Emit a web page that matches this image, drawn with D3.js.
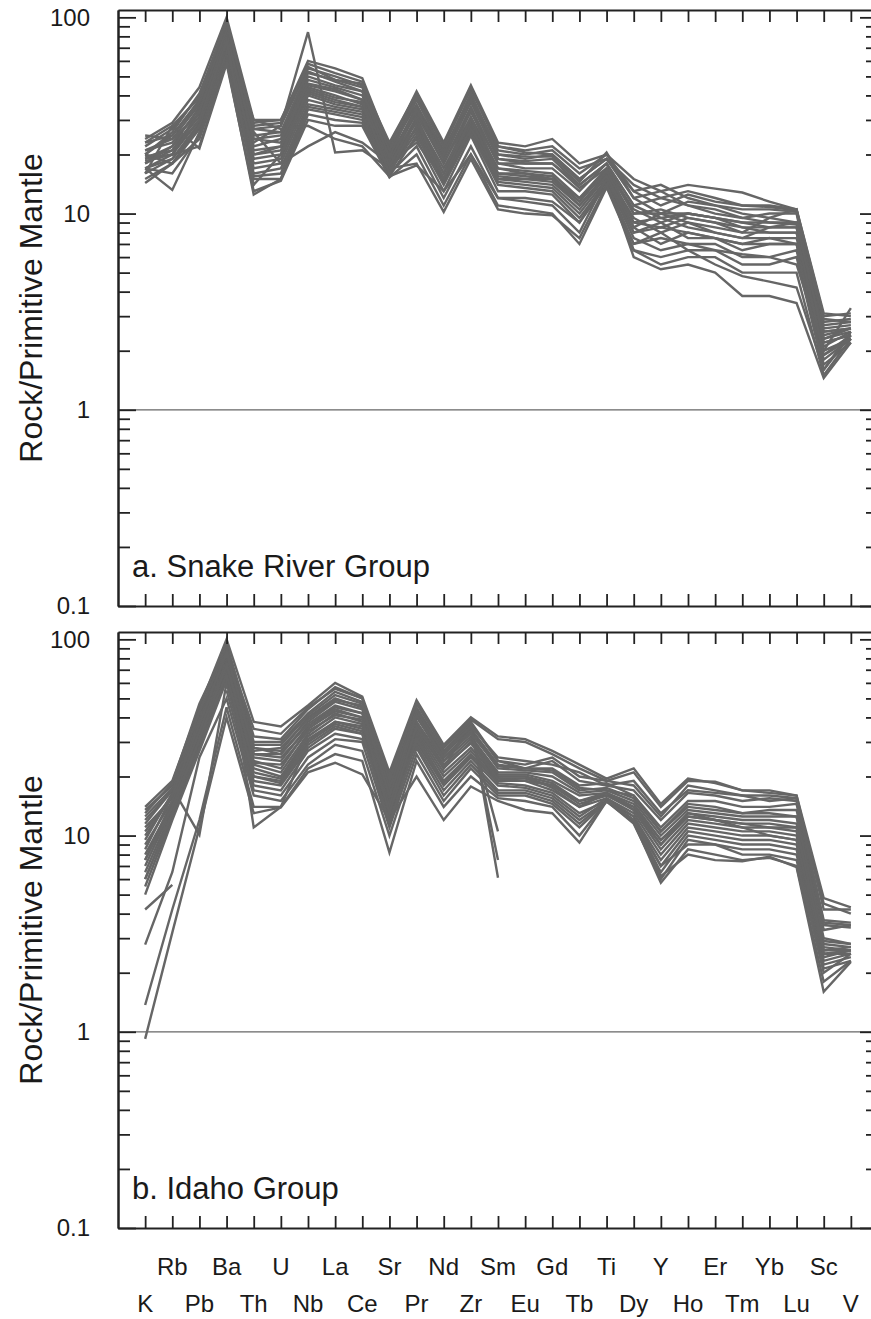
<!DOCTYPE html>
<html>
<head>
<meta charset="utf-8">
<script src="https://cdn.jsdelivr.net/npm/d3@7"></script>
<style>
  html, body { margin: 0; padding: 0; background: #fff; }
  svg { display: block; }
  text { font-family: "Liberation Sans", Arial, Helvetica, sans-serif; fill: #1a1a1a; }
</style>
</head>
<body>
<svg id="chart" width="871" height="1319"></svg>
<script>
// ---------------- data ----------------
const elements = ["K","Rb","Pb","Ba","Th","U","Nb","La","Ce","Sr","Pr","Nd","Zr","Sm","Eu","Gd","Tb","Ti","Dy","Y","Ho","Er","Tm","Yb","Lu","Sc","V"];
const majorTicks = [0.1, 1, 10, 100];
const majorTickLabels = ["0.1", "1", "10", "100"];
const panelTitles = ["a. Snake River Group", "b. Idaho Group"];
const yAxisTitle = "Rock/Primitive Mantle";

// Snake River Group samples (rock / primitive mantle)
const snakeRiver = [
  [24, 29, 44, 100, 30, 30, 60, 55, 49, 22, 42, 23, 45, 23, 22, 24, 18, 20, 15, 13, 14, 13.4, 12.8, 11.5, 10.5, 3.0, 3.1],
  [22, 27, 40, 95, 28, 29, 58, 52, 47, 21, 40, 22, 43, 22, 21, 22, 17, 19, 14, 12, 13, 12, 11, 10.8, 10.4, 2.8, 2.9],
  [20, 25, 38, 90, 27, 28, 55, 50, 45, 20, 38, 21, 40, 21, 20, 21, 16, 20, 13, 14, 12, 11, 10.5, 10.5, 10.2, 2.6, 2.7],
  [25, 24, 36, 88, 25, 26, 52, 48, 44, 21, 36, 20, 38, 20, 19, 20, 15, 19, 12, 10, 11.5, 11, 10, 9.5, 9, 2.5, 2.6],
  [19, 22, 35, 85, 24, 25, 50, 45, 42, 19, 35, 19, 37, 19, 18.5, 19, 14, 18, 11, 12, 11, 10.5, 9.5, 9, 8.8, 2.3, 2.5],
  [18, 21, 33, 82, 22, 24, 48, 44, 40, 18, 33, 18, 35, 18, 18, 18, 13.5, 17, 10.5, 9, 10, 9.5, 9, 8.5, 8.5, 2.2, 2.4],
  [21, 23, 34, 80, 21, 22, 45, 42, 38, 20, 32, 18, 33, 18, 17, 17, 13, 18, 10, 10.5, 9.5, 9, 8, 8, 8, 2.4, 2.6],
  [17, 20, 30, 78, 20, 21, 44, 40, 36, 17, 30, 17, 31, 17, 16.5, 16, 12, 16, 9.5, 8, 9, 8.5, 8, 9.5, 10.5, 2.0, 2.3],
  [16, 19, 29, 75, 19, 20, 42, 38, 35, 19, 29, 16, 30, 16, 16, 15.5, 11.5, 17, 9, 9.5, 8.5, 8, 7.5, 7.5, 7.5, 2.1, 2.5],
  [20, 18, 28, 72, 18, 19, 40, 36, 34, 16, 28, 15, 29, 15.5, 15, 15, 11, 16, 8.5, 7, 8, 7.5, 7, 7.5, 7, 1.9, 2.4],
  [15, 18, 27, 70, 17, 18, 38, 35, 33, 18, 27, 15, 28, 15, 14.5, 14, 10.5, 15.5, 8, 9, 7.5, 7.5, 6.5, 7, 7, 1.8, 2.3],
  [17, 13.2, 26, 68, 16, 17, 36, 34, 32, 16.5, 26, 14.5, 27, 14.5, 14, 13.5, 10, 15, 7.5, 6.5, 7, 7, 6, 6, 6.5, 1.7, 2.2],
  [17, 16, 25, 65, 15.5, 16, 35, 33, 31, 15.5, 25, 14, 26, 14, 13.5, 13, 9.5, 14.5, 7, 8, 6.5, 6.5, 5.5, 5.5, 6, 1.6, 2.4],
  [14.3, 18, 24, 62, 15, 15, 34, 32, 30, 17, 24, 13, 25, 13, 13, 12.5, 9, 14, 6.5, 5.5, 6, 6, 5, 5, 5, 1.5, 2.3],
  [19, 20, 22, 60, 12.5, 15, 32, 30, 29, 16, 22, 12, 22, 12, 11.5, 11, 8, 15, 6, 5.2, 5.5, 5, 3.8, 3.8, 3.5, 1.45, 2.2],
  [16, 28, 21.5, 58, 13, 14.7, 30, 28, 28, 15.3, 20, 11, 20, 11, 10.5, 10, 7, 13.6, 6.5, 6, 6.5, 5.5, 4.8, 4.5, 4.2, 1.6, 2.5],
  [23, 25, 37, 86, 23, 28, 84, 20.5, 21, 17, 18, 10.2, 19, 10.5, 10, 9.8, 7.5, 14, 7, 7.5, 7, 6.5, 6.2, 6, 5.5, 2.0, 3.3],
  [18, 22, 31, 72, 30, 27, 28, 24, 22, 15.5, 17.6, 13, 20, 12, 12, 11.5, 9, 15, 8, 8.5, 8, 7.5, 7, 7, 7, 2.7, 2.8],
  [21, 24, 32, 78, 26, 18, 22, 26, 23, 18, 23, 15, 27, 17, 16, 15, 12, 17, 10, 10, 10, 9.5, 9, 9, 9, 2.9, 2.8],
  [20, 26, 41, 92, 29, 30, 56, 48, 46, 23, 41, 22, 44, 22, 20.5, 20, 15, 19, 13, 11, 12.5, 11.5, 11, 11, 10.5, 3.1, 3.0],
  [18.5, 20, 33, 80, 24, 23, 46, 43, 38, 18.5, 34, 19, 38, 19, 18, 18, 14, 18, 11, 9.5, 10, 9.5, 8.5, 8.5, 8.5, 2.5, 2.6],
  [23, 28, 39, 96, 27, 26, 53, 47, 42, 19.5, 39, 20, 41, 20, 19.5, 19.5, 14.5, 20.5, 12, 13, 11, 10, 9.5, 10, 10, 2.2, 2.4],
  [17, 19, 28, 74, 20, 22, 41, 37, 35, 17.5, 31, 16, 34, 16, 15.5, 15, 11.5, 16.5, 9, 8.5, 9.5, 9, 8.5, 8, 8, 1.9, 2.3],
  [19.5, 21, 30, 76, 14, 20, 43, 39, 37, 16, 30, 15, 31, 15, 15, 14.5, 11, 15.5, 8.5, 10, 9, 8, 7.5, 8.5, 9, 2.3, 2.6]
];

// Idaho Group samples (null = not analysed)
const idaho = [
  [14, 19, 45, 100, 38, 36, 46, 60, 51, 21, 49, 29, 40, 32, 31, 27, 23, 19.5, 22, 14.5, 19.5, 18.5, 17, 17, 16, 4.8, 4.3],
  [13.5, 18, 42, 95, 32, 31, 44, 57, 50, 20, 47, 28, 38, 24, 23, 25, 20, 19, 18, 12.5, 18, 17, 16, 15, 15.5, 4.5, 4.0],
  [12, 17, 40, 90, 30, 30, 42, 54, 48, 18, 45, 27, 37, 24, 22, 24, 19, 18, 17, 12, 16.5, 16, 15, 15.5, 15, 3.7, 3.6],
  [10, 16, 38, 85, 28, 27, 40, 50, 45, 16.5, 42, 26, 35, 23, 22, 22, 18, 18.5, 16, 11, 15, 15, 14, 14, 14.5, 3.5, 3.4],
  [11, 15.5, 36, 82, 26, 26, 38, 48, 44, 15, 40, 25, 34, 22, 21.5, 21, 17, 17.5, 15.5, 10.5, 14.5, 14, 13, 13.5, 13.5, 3.3, 3.5],
  [9, 15, 35, 80, 25, 24, 36, 45, 42, 14.5, 38, 24, 32, 21, 21, 20, 16.5, 17, 15, 10, 13.5, 13, 12.5, 12.5, 12.5, 3.0, 2.8],
  [8, 14.5, 33, 75, 24, 22, 35, 43, 40, 14, 37, 23, 31, 20.5, 20.5, 19, 16, 16.5, 14.5, 9.5, 13, 12.5, 12, 12, 11.5, 2.8, 2.7],
  [7, 14, 32, 72, 23, 21, 33, 42, 38, 13.5, 35, 22, 30, 20, 20, 18.5, 15, 16, 14, 9, 12.5, 12, 11.5, 11, 11, 2.7, 2.6],
  [6.5, 13.5, 30, 70, 22, 20, 32, 40, 37, 13, 34, 21, 28, 19.5, 19.5, 18, 14.5, 16, 13.5, 8.5, 12, 11.5, 11, 11, 10.5, 2.6, 2.7],
  [6, 13, 29, 68, 21, 19.5, 31, 38, 35, 12.5, 33, 20, 27, 19, 19, 17, 14, 15.5, 13, 8, 11.5, 11, 10.5, 10.5, 10, 2.5, 2.5],
  [5.5, 12.5, 28, 65, 20, 19, 30, 37, 34, 12, 32, 19, 26, 18.5, 18, 16.5, 13, 15, 12.5, 7.5, 11, 10.5, 10, 10, 9.5, 2.4, 2.6],
  [5, 12, 27, 62, 19, 18, 28, 35, 33, 12, 30, 18, 25, 18, 17.5, 16, 12.5, 15.5, 12.5, 7, 10.5, 10, 9.5, 9.5, 9, 2.3, 2.5],
  [12.5, 17.5, 10.1, 60, 18, 17, 27, 33, 31, 16, 29, 17, 24, 17, 17, 15.5, 12, 15, 12, 6.5, 10, 9.5, 9, 9, 8.5, 2.2, 2.4],
  [4.2, 5.6, null, 55, 17, 16, 25, 31, 30, 11, 28, 16, 23, 16.5, 16.5, 15, 11.5, 15, 11.5, 6, 9.5, 9, 8.5, 8.5, 8, 2.1, 2.3],
  [2.78, 6.5, 25, 50, 16, 15, 23, 29, 27, 10, 26, 15, 22, 16, 16, 14.5, 11, 14.9, 11.7, 5.75, 8.5, 8, 7.5, 7.7, 7, 1.8, 2.3],
  [1.37, 4.2, 12, 45, 14, 14, 22, 26, 24, 8.2, 24, 14, 20, 15.5, 15, 14, 10, 15, 12, 6.2, 8, 7.5, 7.4, 7.8, 6.9, 1.6, 2.27],
  [0.92, 3.2, 11, 40, 13, 13.9, 21, 23.5, 20.5, 12, 20, 12, 17.8, 15, 13.5, 13, 9.2, 15, 12, 7, 9, 9, 8, 8, 7.5, 2.0, 2.5],
  [13, 18.5, 47, 92, 11, 14, 30, 38, 36, 17, 38, 22, 38, 6.1, null, null, null, null, null, null, null, null, null, null, null, null, null],
  [8.5, 16, 35, 78, 28, 26, 37, 46, 42, 15.5, 44, 26, 36, 7.5, null, null, null, null, null, null, null, null, null, null, null, null, null],
  [7.5, 15, 34, 76, 26, 25, 35, 44, 40, 14, 41, 24, 34, 10.5, null, null, null, null, null, null, null, null, null, null, null, null, null],
  [11.5, 17, 43, 88, 35, 33, 45, 56, 50, 19, 48, 28.5, 39, 31, 30, 26, 22, 19, 21, 14, 19, 18.8, 17, 16.5, 16, 4.2, 4.2],
  [9.5, 16.5, 39, 84, 29, 29, 41, 52, 47, 17.5, 43, 26.5, 36, 25, 24, 23, 21, 18, 19, 13, 17, 16.5, 16, 16, 15.5, 3.6, 3.5],
  [6, 13, 31, 66, 20, 18.5, 29, 36, 33, 11.5, 31, 18.5, 25.5, 20, 20, 17.5, 14, 16.5, 13.5, 9, 13, 12, 11, 10, 9.5, 2.5, 2.6],
  [10.5, 16, 37, 86, 27, 28, 39, 49, 46, 16, 41, 25, 33, 22.5, 22, 21.5, 17.5, 17, 16, 10.5, 14, 13.5, 13, 13, 12.5, 2.9, 2.8],
  [7.5, 14, 31, 74, 23.5, 23, 34, 41, 39, 13, 36, 22.5, 29.5, 19.5, 19, 18, 15, 16.5, 14, 9.5, 12.5, 12, 11.5, 11.5, 11, 2.6, 2.6]
];

// ---------------- layout ----------------
const svg = d3.select("#chart");
const left = 118, right = 878;
const panelH = 596;
const panels = [
  { data: snakeRiver, bottom: 606, title: panelTitles[0] },
  { data: idaho, bottom: 1228, title: panelTitles[1] }
];
const yMax = 109;
const lineColor = "#666666";
const axisColor = "#222222";

const x = d3.scaleLinear().domain([-1, elements.length]).range([left, right]);

const minorTicks = [];
[0.1, 1, 10].forEach(dec => { for (let k = 2; k <= 9; k++) minorTicks.push(+(dec * k).toPrecision(3)); });

panels.forEach((p, pi) => {
  const top = p.bottom - panelH;
  const y = d3.scaleLog().domain([0.1, yMax]).range([p.bottom, top]);
  const g = svg.append("g");

  // reference line at 1
  g.append("line")
    .attr("x1", left).attr("x2", right)
    .attr("y1", y(1)).attr("y2", y(1))
    .attr("stroke", lineColor).attr("stroke-width", 1.3);

  // sample lines
  const line = d3.line()
    .defined(d => d != null)
    .x((d, i) => x(i))
    .y(d => y(d));
  g.append("g").selectAll("path")
    .data(p.data)
    .join("path")
    .attr("d", line)
    .attr("fill", "none")
    .attr("stroke", lineColor)
    .attr("stroke-width", 2.4)
    .attr("stroke-linejoin", "miter");

  // left axis (major with labels)
  const leftMajor = g.append("g").attr("transform", `translate(${left},0)`)
    .call(d3.axisLeft(y).tickValues(majorTicks)
      .tickFormat((d, i) => majorTickLabels[i])
      .tickSizeInner(-18).tickSizeOuter(0).tickPadding(28));
  leftMajor.selectAll("text").attr("font-size", 24).attr("fill", "#1a1a1a")
    .attr("font-family", "Liberation Sans, Arial, sans-serif");
  const leftMinor = g.append("g").attr("transform", `translate(${left},0)`)
    .call(d3.axisLeft(y).tickValues(minorTicks).tickFormat("")
      .tickSizeInner(-12).tickSizeOuter(0));

  // right axis
  const rightMajor = g.append("g").attr("transform", `translate(${right},0)`)
    .call(d3.axisRight(y).tickValues(majorTicks).tickFormat("")
      .tickSizeInner(-18).tickSizeOuter(0));
  const rightMinor = g.append("g").attr("transform", `translate(${right},0)`)
    .call(d3.axisRight(y).tickValues(minorTicks).tickFormat("")
      .tickSizeInner(-12).tickSizeOuter(0));

  // top and bottom axes
  const xt = d3.range(elements.length);
  const topAx = g.append("g").attr("transform", `translate(0,${top})`)
    .call(d3.axisTop(x).tickValues(xt).tickFormat("").tickSizeInner(-12).tickSizeOuter(0));
  const botAx = g.append("g").attr("transform", `translate(0,${p.bottom})`)
    .call(d3.axisBottom(x).tickValues(xt).tickFormat("").tickSizeInner(-12).tickSizeOuter(0));

  [leftMajor, leftMinor, rightMajor, rightMinor, topAx, botAx].forEach(a => {
    a.selectAll("path.domain").attr("stroke", axisColor).attr("stroke-width", 2);
    a.selectAll(".tick line").attr("stroke", axisColor).attr("stroke-width", 1.8);
  });

  // panel title
  g.append("text")
    .attr("x", 132).attr("y", p.bottom - 29)
    .attr("font-size", 31)
    .text(p.title);

  // y-axis title
  g.append("text")
    .attr("transform", `translate(42,${(top + p.bottom) / 2}) rotate(-90)`)
    .attr("text-anchor", "middle")
    .attr("font-size", 32)
    .text(yAxisTitle);
});

// element labels (two staggered rows under the lower panel)
svg.append("g").selectAll("text")
  .data(elements)
  .join("text")
  .attr("x", (d, i) => x(i))
  .attr("y", (d, i) => i % 2 === 0 ? 1312 : 1275)
  .attr("text-anchor", "middle")
  .attr("font-size", 24)
  .text(d => d);
</script>
</body>
</html>
